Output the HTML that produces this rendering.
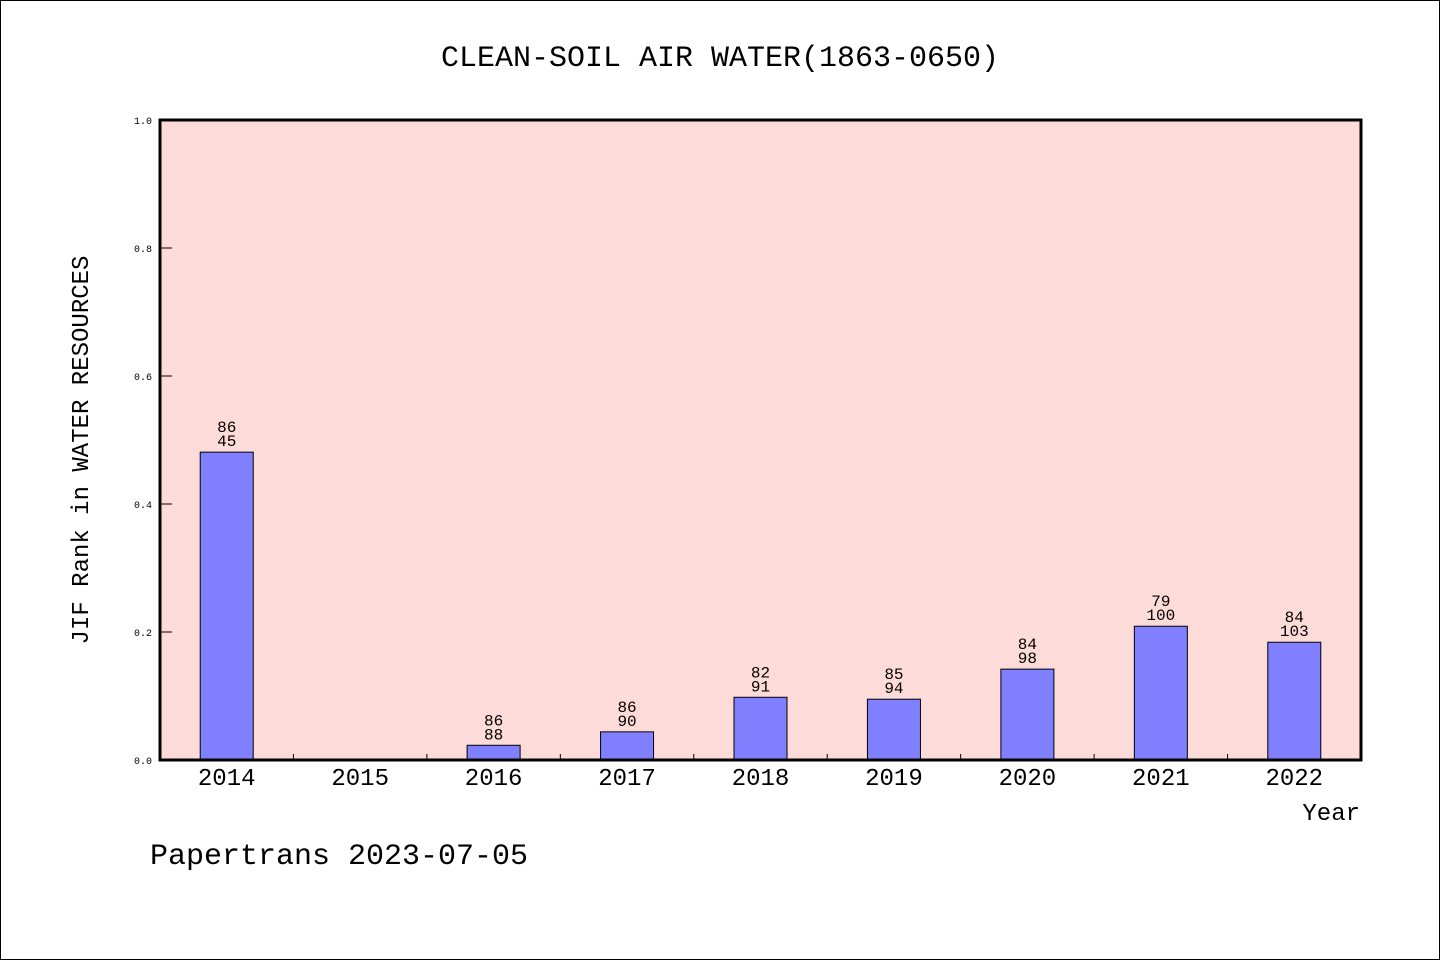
<!DOCTYPE html>
<html><head><meta charset="utf-8"><style>
body{margin:0;background:#fff;}
svg text{font-family:"Liberation Mono","DejaVu Sans Mono",monospace;}
</style></head><body>
<svg width="1440" height="960">
<rect x="0.5" y="0.5" width="1439" height="959" fill="#fff" stroke="#000"/>
<text x="720" y="66" font-size="30" text-anchor="middle">CLEAN-SOIL AIR WATER(1863-0650)</text>
<rect x="160" y="120" width="1201" height="640" fill="#fddbd8"/>
<g id="g"></g>
<rect x="160" y="120" width="1201" height="640" fill="none" stroke="#000" stroke-width="3"/>
<text x="88" y="450" font-size="24" text-anchor="middle" transform="rotate(-90 88 450)">JIF Rank in WATER RESOURCES</text>
<text x="1360" y="820" font-size="24" text-anchor="end">Year</text>
<text x="150" y="864" font-size="30">Papertrans 2023-07-05</text>
</svg>
<script>
const categories=["2014","2015","2016","2017","2018","2019","2020","2021","2022"];
const values=[0.481,0,0.023,0.044,0.098,0.095,0.142,0.209,0.184];
const topLabels=["86","","86","86","82","85","84","79","84"];
const bottomLabels=["45","","88","90","91","94","98","100","103"];
const yTicks=[0,0.2,0.4,0.6,0.8,1.0];
const L=160,R=1361,T=120,B=760;
const bw=(R-L)/categories.length;
const x=i=>L+bw*(i+0.5);
const y=v=>B-(B-T)*v;
const g=document.getElementById('g');
const NS="http://www.w3.org/2000/svg";
function mk(t,a,txt){const e=document.createElementNS(NS,t);for(const k in a)e.setAttribute(k,a[k]);if(txt!=null)e.textContent=txt;g.appendChild(e);return e;}
yTicks.forEach(v=>{
 const l=mk('line',{x1:L,x2:L+12,y1:y(v),y2:y(v),stroke:'#000'});
 
 
 const t=mk('text',{x:L-8,y:y(v)+4,'font-size':10,'text-anchor':'end'},v.toFixed(1));
 
 
});
categories.forEach((c,i)=>{
 if(i>0){const l=mk('line',{x1:L+bw*i,x2:L+bw*i,y1:B,y2:B-6,stroke:'#000'});
 
 }
 const t=mk('text',{x:x(i),y:B+25,'font-size':24,'text-anchor':'middle'},c);
 
 
 if(values[i]>0){
  const r=mk('rect',{x:x(i)-26.5,y:y(values[i]),width:53,height:B-y(values[i]),fill:'#8080ff',stroke:'#000'});
  
  
  const t1=mk('text',{x:x(i),y:y(values[i])-20,'font-size':16,'text-anchor':'middle'},topLabels[i]);
  
  
  const t2=mk('text',{x:x(i),y:y(values[i])-6,'font-size':16,'text-anchor':'middle'},bottomLabels[i]);
  
  
 }
});
</script>
</body></html>
